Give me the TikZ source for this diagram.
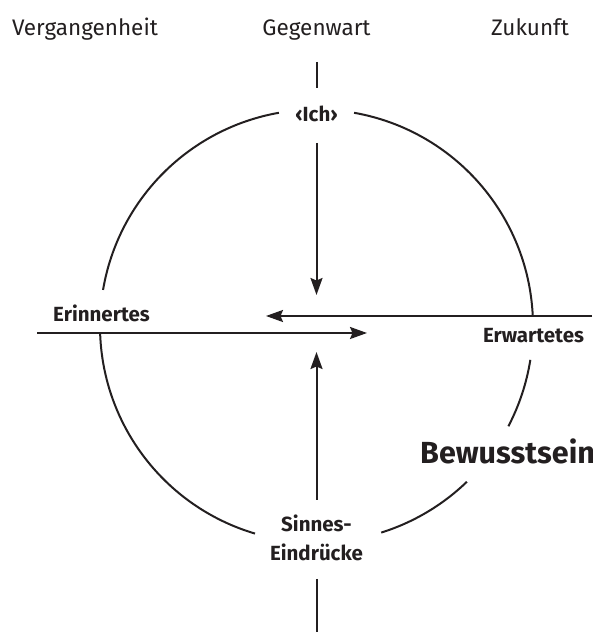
\documentclass[tikz,border=0pt]{standalone}
\usepackage{fontspec}
\setmainfont{Fira Sans}
\usetikzlibrary{arrows.meta}
\definecolor{ink}{HTML}{231F20}
\tikzset{
  line/.style={draw=ink, line width=2pt},
  arr/.style={line, -{Stealth[length=17pt,width=12pt,inset=2.5pt]}},
  toplabel/.style={anchor=base, inner sep=0pt, text=ink, font=\fontsize{22.5}{27}\selectfont},
  lab/.style={anchor=base, inner sep=0pt, text=ink, font=\fontsize{20.5}{24}\selectfont\bfseries},
  biglab/.style={anchor=base west, inner sep=0pt, text=ink, font=\fontsize{30.5}{36}\selectfont\bfseries}
}
\begin{document}
\begin{tikzpicture}[x=1pt,y=1pt]
\useasboundingbox (0,0) rectangle (592,632);
% labels
\node[toplabel] (verg) at (85,596) {Vergangenheit};
\node[toplabel] (gegen) at (316.5,596) {Gegenwart};
\node[toplabel] (zuk) at (530,596) {Zukunft};
\node[lab] (ich) at (316.5,510) {‹Ich›};
\node[lab] (erin) at (101.5,310) {Erinnertes};
\node[lab] (erw) at (533.5,289) {Erwartetes};
\node[biglab] (bew) at (420,168) {Bewusstsein};
\node[lab] (sin1) at (316.5,100) {Sinnes-};
\node[lab] (sin2) at (316.5,71) {Eindrücke};
% coordinates
\coordinate (c) at (316.5,306);
\coordinate (ts1) at (316.5,570);
\coordinate (ts2) at (316.5,544);
\coordinate (d1) at (316.5,489);
\coordinate (d2) at (316.5,337);
\coordinate (u1) at (316.5,132);
\coordinate (u2) at (316.5,280);
\coordinate (bs1) at (316.5,53);
\coordinate (bs2) at (316.5,0);
\coordinate (r1) at (592,316);
\coordinate (r2) at (266,316);
\coordinate (l1) at (37,299);
\coordinate (l2) at (367,299);
% circle arcs
\draw[line] ([shift={(100:216.5)}]c) arc (100:170.4:216.5);
\draw[line] ([shift={(181.9:216.5)}]c) arc (181.9:253.5:216.5);
\draw[line] ([shift={(-72.6:216.5)}]c) arc (-72.6:-46:216.5);
\draw[line] ([shift={(-27.6:216.5)}]c) arc (-27.6:-9:216.5);
\draw[line] ([shift={(2.6:216.5)}]c) arc (2.6:80:216.5);
% lines and arrows
\draw[line] (ts1) -- (ts2);
\draw[arr] (d1) -- (d2);
\draw[arr] (u1) -- (u2);
\draw[line] (bs1) -- (bs2);
\draw[arr] (r1) -- (r2);
\draw[arr] (l1) -- (l2);
\end{tikzpicture}
\end{document}
